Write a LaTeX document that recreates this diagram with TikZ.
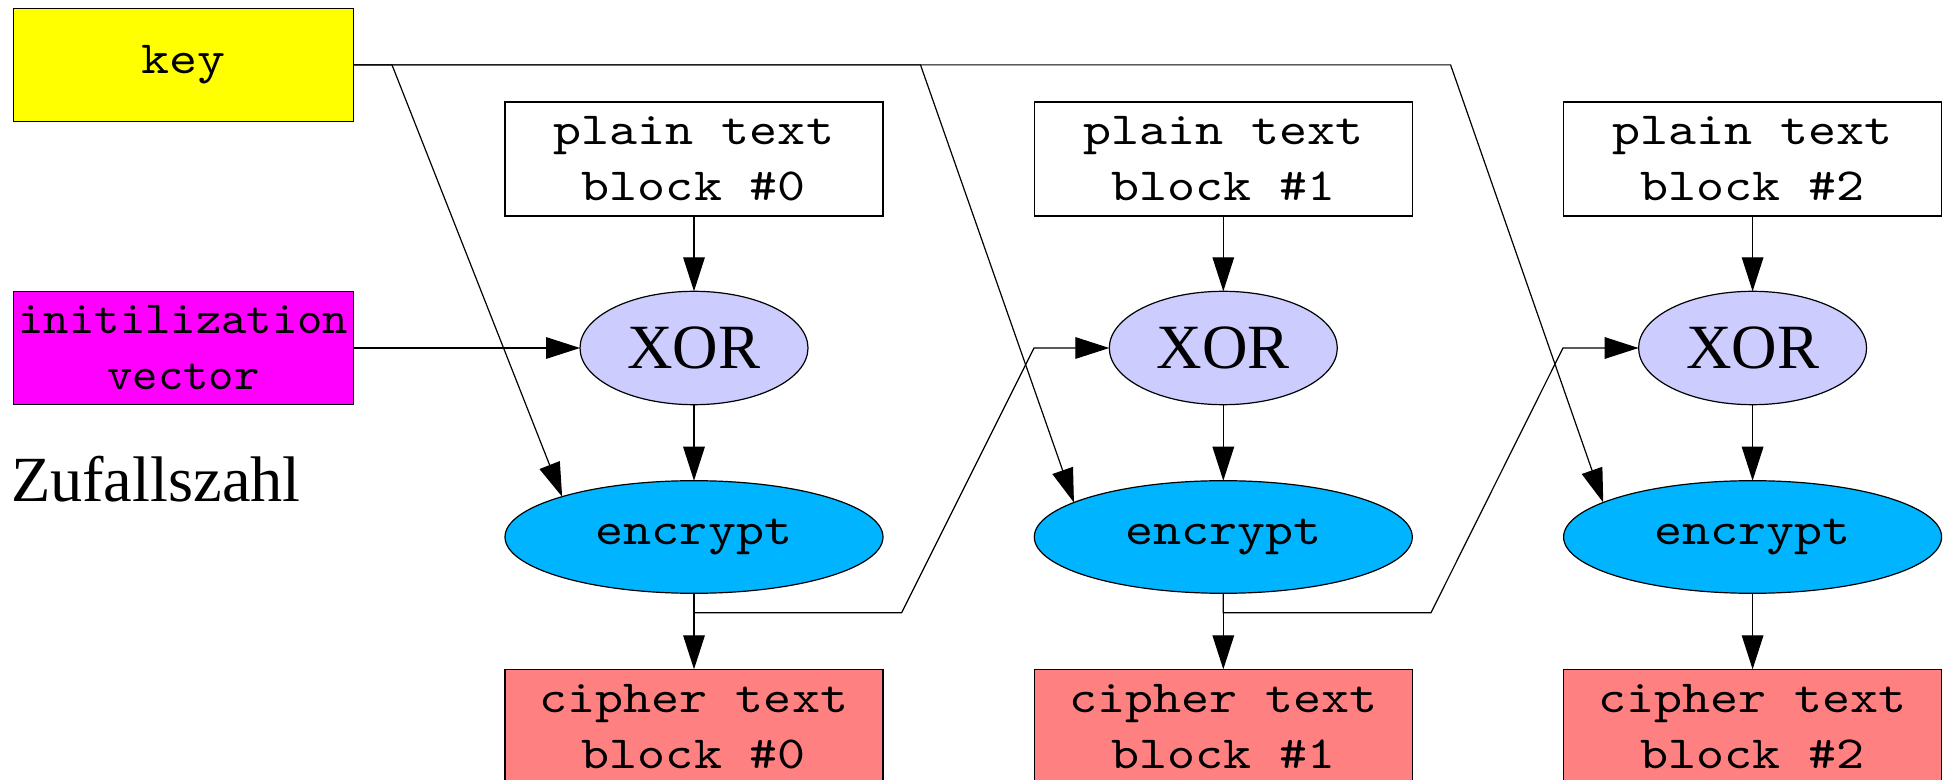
\documentclass[tikz,border=0pt]{standalone}
\usepackage{fontspec}
\setmainfont{Liberation Serif}
\newfontfamily\monofont{lmmono10-regular}[Extension=.otf,FakeStretch=1.16]
\newfontfamily\ivfont{lmmono10-regular}[Extension=.otf,FakeStretch=1.05]
\usetikzlibrary{arrows.meta,shapes.geometric}
\definecolor{keyfill}{HTML}{FFFF00}
\definecolor{ivfill}{HTML}{FF00FF}
\definecolor{xorfill}{HTML}{CCCCFF}
\definecolor{encfill}{HTML}{00B4FF}
\definecolor{cipherfill}{HTML}{FF8080}
\begin{document}
\begin{tikzpicture}[x=0.5pt,y=-0.5pt,line width=0.6pt,
  every node/.style={inner sep=0pt,outer sep=0pt},
  monotext/.style={font=\monofont\fontsize{23}{28}\selectfont,align=center},
  blockbox/.style={draw,rectangle,monotext,minimum width=189pt,minimum height=57pt},
  sidebox/.style={draw,rectangle,monotext,minimum width=170.2pt,minimum height=56.5pt},
  xorop/.style={draw,ellipse,fill=xorfill,minimum width=114pt,minimum height=56.7pt,
    font=\fontsize{31.5}{36}\selectfont},
  encop/.style={draw,ellipse,fill=encfill,monotext,minimum width=189pt,minimum height=56.3pt},
  flow/.style={-{Triangle[length=17pt,width=10.8pt]}},
]
\useasboundingbox (0,0) rectangle (1950,780);

% inputs on the left
\node[sidebox,fill=keyfill] (key) at (183.4,64.9) {key};
\node[sidebox,fill=ivfill,font=\ivfont\fontsize{23}{28}\selectfont] (iv) at (183.4,348) {initilization\\vector};
\node[anchor=base west,font=\fontsize{32.2}{36}\selectfont] (zz) at (11,501.7) {Zufallszahl};

% the three CBC stages
\foreach \i/\x in {0/694,1/1223.3,2/1752.6}{
  \node[blockbox] (plain\i) at (\x,159) {plain text\\block \#\i};
  \node[xorop] (xor\i) at (\x,348) {XOR};
  \node[encop] (enc\i) at (\x,537) {encrypt};
  \node[blockbox,fill=cipherfill] (cipher\i) at (\x,726.3) {cipher text\\block \#\i};
  \draw[flow] (plain\i) -- (xor\i);
  \draw[flow] (xor\i) -- (enc\i);
  \draw[flow] (enc\i) -- (cipher\i);
}

% initialization vector into the first XOR
\draw[flow] (iv.east) -- (xor0.west);

% key distribution to every encrypt step
\coordinate (k0) at (392,64.9);
\coordinate (k1) at (920.5,64.9);
\coordinate (k2) at (1450.6,64.9);
\draw[flow] (key.east) -- (k0) -- (enc0.163);
\draw[flow] (key.east) -- (k1) -- (enc1.167);
\draw[flow] (key.east) -- (k2) -- (enc2.167);

% cipher text feedback into the next XOR
\coordinate (f0) at (901.6,612.7);
\coordinate (g0) at (1034,348);
\coordinate (f1) at (1431,612.7);
\coordinate (g1) at (1563,348);
\draw[flow] (enc0.south) -- (enc0.south |- f0) -- (f0) -- (g0) -- (xor1.west);
\draw[flow] (enc1.south) -- (enc1.south |- f1) -- (f1) -- (g1) -- (xor2.west);
\end{tikzpicture}
\end{document}
